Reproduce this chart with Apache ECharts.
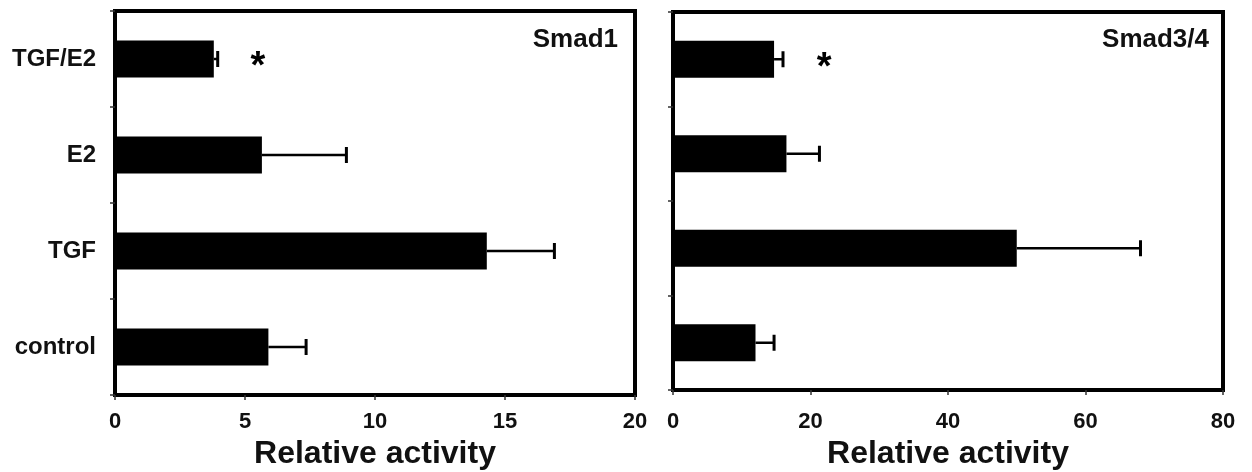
<!DOCTYPE html>
<html>
<head>
<meta charset="utf-8">
<script src="https://cdn.jsdelivr.net/npm/echarts@6/dist/echarts.min.js"></script>
<style>html,body{margin:0;padding:0;background:#fff;}#c{width:1252px;height:472px;}</style>
</head>
<body>
<div id="c"></div>
<script>
const categories = ['TGF/E2', 'E2', 'TGF', 'control'];
const smad1Values = [3.8, 5.65, 14.3, 5.9];
const smad1ErrUpper = [3.95, 8.9, 16.9, 7.35];
const smad34Values = [14.7, 16.5, 50.0, 12.0];
const smad34ErrUpper = [16.0, 21.3, 68.0, 14.7];
const smad1Star = [[5.5, 0]];
const smad34Star = [[22, 0]];
const smad1Ticks = { min: 0, max: 20, interval: 5 };
const smad34Ticks = { min: 0, max: 80, interval: 20 };
const panelTitles = ['Smad1', 'Smad3/4'];
const axisName = 'Relative activity';

const FONT = '"Liberation Sans", Arial, Helvetica, sans-serif';
const chart = echarts.init(document.getElementById('c'));

function errItem(vals, ups) {
  return vals.map((v, i) => [v, ups[i], i]);
}
function renderErr(params, api) {
  const lo = api.value(0), hi = api.value(1), cat = api.value(2);
  const p0 = api.coord([lo, cat]);
  const p1 = api.coord([hi, cat]);
  return {
    type: 'group',
    children: [
      { type: 'line', shape: { x1: p0[0], y1: p0[1], x2: p1[0], y2: p1[1] }, style: { stroke: '#000', lineWidth: 2.5 } },
      { type: 'line', shape: { x1: p1[0], y1: p1[1] - 8, x2: p1[0], y2: p1[1] + 8 }, style: { stroke: '#000', lineWidth: 3 } }
    ]
  };
}
function xAx(idx, t, labelMargin, nameGap) {
  return {
    type: 'value', gridIndex: idx, min: t.min, max: t.max, interval: t.interval,
    splitLine: { show: false },
    axisLine: { show: true, lineStyle: { color: '#000', width: 4 } },
    axisTick: { show: true, length: 5, lineStyle: { color: '#333', width: 1.5 } },
    axisLabel: { color: '#111', fontFamily: FONT, fontWeight: 'bold', fontSize: 22, margin: labelMargin },
    name: axisName, nameLocation: 'middle', nameGap: nameGap,
    nameTextStyle: { color: '#111', fontFamily: FONT, fontWeight: 'bold', fontSize: 32 }
  };
}
function yAx(idx, showLabels) {
  return {
    type: 'category', gridIndex: idx, data: categories, inverse: true,
    axisLine: { show: true, lineStyle: { color: '#000', width: 4 } },
    axisTick: { show: true, length: 5, lineStyle: { color: '#333', width: 1.5 } },
    axisLabel: { show: showLabels, color: '#111', fontFamily: FONT, fontWeight: 'bold', fontSize: 24, margin: 19 }
  };
}
function starSeries(idx, data) {
  return {
    type: 'scatter', xAxisIndex: idx, yAxisIndex: idx, data: data,
    symbolSize: 1, itemStyle: { color: 'rgba(0,0,0,0)' }, silent: true,
    label: { show: true, position: 'inside', formatter: '*', color: '#000', opacity: 1, textBorderWidth: 0, fontFamily: FONT, fontWeight: 'bold', fontSize: 38, offset: [0, 9] }
  };
}

chart.setOption({
  animation: false,
  backgroundColor: '#fff',
  title: [
    { text: panelTitles[0], right: 634, top: 27, padding: 0, textStyle: { color: '#111', fontFamily: FONT, fontWeight: 'bold', fontSize: 26 } },
    { text: panelTitles[1], right: 43, top: 27, padding: 0, textStyle: { color: '#111', fontFamily: FONT, fontWeight: 'bold', fontSize: 26 } }
  ],
  grid: [
    { left: 115, right: 617, top: 11, bottom: 77, outerBoundsMode: 'none', containLabel: false, show: true, borderColor: '#000', borderWidth: 4, backgroundColor: 'transparent' },
    { left: 673, right: 29, top: 12, bottom: 82, outerBoundsMode: 'none', containLabel: false, show: true, borderColor: '#000', borderWidth: 4, backgroundColor: 'transparent' }
  ],
  xAxis: [xAx(0, smad1Ticks, 16, 38), xAx(1, smad34Ticks, 21, 43)],
  yAxis: [yAx(0, true), yAx(1, false)],
  series: [
    { type: 'bar', xAxisIndex: 0, yAxisIndex: 0, data: smad1Values, barWidth: 37, itemStyle: { color: '#000' } },
    { type: 'custom', xAxisIndex: 0, yAxisIndex: 0, data: errItem(smad1Values, smad1ErrUpper), renderItem: renderErr, encode: { x: [0, 1], y: 2 }, z: 3 },
    starSeries(0, smad1Star),
    { type: 'bar', xAxisIndex: 1, yAxisIndex: 1, data: smad34Values, barWidth: 37, itemStyle: { color: '#000' } },
    { type: 'custom', xAxisIndex: 1, yAxisIndex: 1, data: errItem(smad34Values, smad34ErrUpper), renderItem: renderErr, encode: { x: [0, 1], y: 2 }, z: 3 },
    starSeries(1, smad34Star)
  ]
});
</script>
</body>
</html>
